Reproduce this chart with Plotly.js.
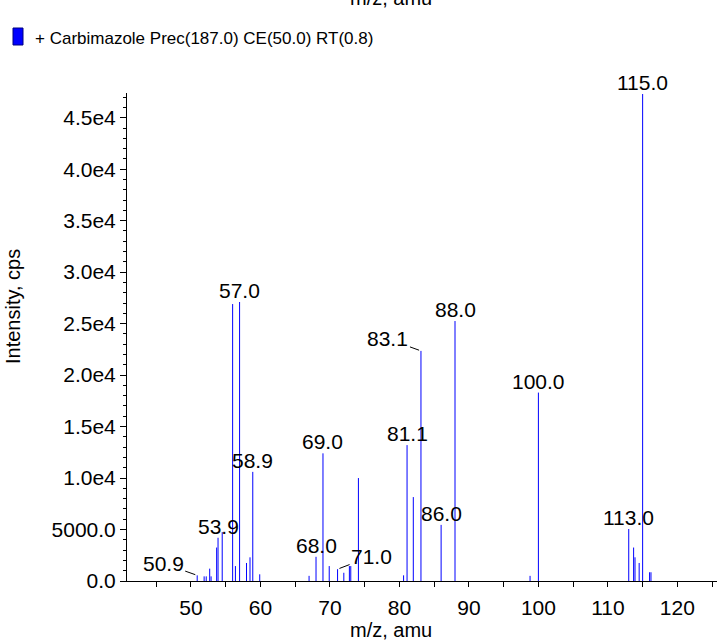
<!DOCTYPE html>
<html>
<head>
<meta charset="utf-8">
<script src="https://cdn.plot.ly/plotly-3.0.1.min.js"></script>
<style>html,body{margin:0;padding:0;background:#fff;}</style>
</head>
<body>
<div id="chart" style="width:719px;height:643px;"></div>
<script>
// ---- data ----
const mz = [50.9, 51.9, 52.2, 52.7, 52.9, 53.7, 53.9, 54.5, 56.0, 56.4, 57.0, 58.0, 58.5, 58.9, 59.9,
            67.0, 68.0, 69.0, 69.9, 71.1, 72.0, 72.8, 73.0, 74.1,
            80.6, 81.1, 82.0, 83.1, 86.0, 88.0, 98.8, 100.0,
            113.0, 113.7, 113.9, 114.5, 115.0, 116.0, 116.2];
const intensity = [550, 450, 450, 1200, 450, 3250, 4200, 4750, 26900, 1450, 27100, 1750, 2300, 10600, 650,
            500, 2350, 12400, 1450, 1150, 800, 1450, 1450, 10000,
            550, 13200, 8150, 22350, 5450, 25250, 500, 18300,
            5050, 3250, 2300, 1750, 47300, 850, 850];
const labelMz   = [50.9, 53.9, 57.0, 58.9, 68.0, 69.0, 71.1, 81.1, 83.1, 86.0, 88.0, 100.0, 113.0, 115.0];
const labelText = ['50.9','53.9','57.0','58.9','68.0','69.0','71.0','81.1','83.1','86.0','88.0','100.0','113.0','115.0'];
const xTickVals = [50, 60, 70, 80, 90, 100, 110, 120];
const xTickText = ['50','60','70','80','90','100','110','120'];
const yTickVals = [0, 5000, 10000, 15000, 20000, 25000, 30000, 35000, 40000, 45000];
const yTickText = ['0.0','5000.0','1.0e4','1.5e4','2.0e4','2.5e4','3.0e4','3.5e4','4.0e4','4.5e4'];
const seriesName = '+ Carbimazole Prec(187.0) CE(50.0) RT(0.8)';
const xTitle = 'm/z, amu';
const yTitle = 'Intensity, cps';

// ---- build ----
const FONT = 'Liberation Sans, Arial, Helvetica, sans-serif';
const BLUE = 'rgb(0,0,255)';
const xRange = [40.8, 125.7];
const yRange = [0, 47400];

// plot area in pixels (for paper-coordinate helpers)
const L = 127, R = 717, T = 93, B = 581;
const px = x => (x - L) / (R - L);
const py = y => (B - y) / (B - T);

const sx = [], sy = [];
mz.forEach((m, i) => { sx.push(m, m, null); sy.push(0, intensity[i], null); });

const sticks = {
  x: sx, y: sy, type: 'scatter', mode: 'lines',
  line: {color: BLUE, width: 1}, hoverinfo: 'skip', showlegend: false
};
const zeroMarker = {
  x: [xRange[0] - 0.7], y: [0], type: 'scatter', mode: 'markers',
  marker: {symbol: 'triangle-right', size: 15, color: BLUE, line: {width: 0}},
  cliponaxis: false, showlegend: false, hoverinfo: 'skip'
};

const leader = {'50.9': [-34, -12], '71.0': [34, -13], '83.1': [-33, -12]};
const annotations = labelMz.map((m, i) => {
  const y = intensity[mz.indexOf(m)];
  const t = labelText[i];
  const base = {x: m, y: y, xref: 'x', yref: 'y', text: t,
                font: {family: FONT, size: 21, color: '#000'}};
  if (leader[t]) {
    return Object.assign(base, {showarrow: true, arrowhead: 0, arrowwidth: 1, arrowcolor: '#000',
                                ax: leader[t][0], ay: leader[t][1], standoff: 2});
  }
  return Object.assign(base, {showarrow: false, yanchor: 'bottom', yshift: -2});
});

// axis titles and legend text
annotations.push({xref: 'paper', yref: 'paper', x: px(391), y: 0, yanchor: 'top', yshift: -36,
  text: xTitle, showarrow: false, font: {family: FONT, size: 20, color: '#000'}});
annotations.push({xref: 'paper', yref: 'paper', x: px(391), y: py(11), yanchor: 'bottom',
  text: xTitle, showarrow: false, font: {family: FONT, size: 20, color: '#000'}});
annotations.push({xref: 'paper', yref: 'paper', x: px(13), y: py(307),
  xanchor: 'center', yanchor: 'middle', textangle: -90,
  text: yTitle, showarrow: false, font: {family: FONT, size: 20, color: '#000'}});
annotations.push({xref: 'paper', yref: 'paper', x: px(33), y: py(38),
  xanchor: 'left', yanchor: 'middle',
  text: seriesName, showarrow: false, font: {family: FONT, size: 17, color: '#000'}});

const shapes = [{
  type: 'rect', xref: 'paper', yref: 'paper',
  x0: px(13), x1: px(23), y0: py(45), y1: py(28),
  fillcolor: BLUE, line: {color: '#000080', width: 1}
}];

const layout = {
  width: 719, height: 643,
  margin: {l: L, r: 719 - R, t: T, b: 643 - B, pad: 0},
  paper_bgcolor: '#fff', plot_bgcolor: '#fff',
  showlegend: false,
  font: {family: FONT, color: '#000'},
  xaxis: {
    range: xRange, showline: true, linecolor: '#000', linewidth: 1,
    showgrid: false, zeroline: false,
    ticks: 'outside', ticklen: 5, tickwidth: 1, tickcolor: '#000',
    tickmode: 'array', tickvals: xTickVals, ticktext: xTickText,
    ticklabelstandoff: 3,
    tickfont: {family: FONT, size: 21, color: '#000'},
    minor: {tickmode: 'linear', tick0: 0, dtick: 5, ticks: 'outside', ticklen: 5, tickcolor: '#000', showgrid: false}
  },
  yaxis: {
    range: yRange, showline: true, linecolor: '#000', linewidth: 1,
    showgrid: false, zeroline: false,
    ticks: 'outside', ticklen: 6, tickwidth: 1, tickcolor: '#000',
    tickmode: 'array', tickvals: yTickVals, ticktext: yTickText,
    tickfont: {family: FONT, size: 21, color: '#000'},
    minor: {tickmode: 'linear', tick0: 0, dtick: 1000, ticks: 'outside', ticklen: 3, tickcolor: '#000', showgrid: false}
  },
  annotations: annotations,
  shapes: shapes
};

Plotly.newPlot('chart', [sticks, zeroMarker], layout, {displayModeBar: false, staticPlot: true});
</script>
</body>
</html>
